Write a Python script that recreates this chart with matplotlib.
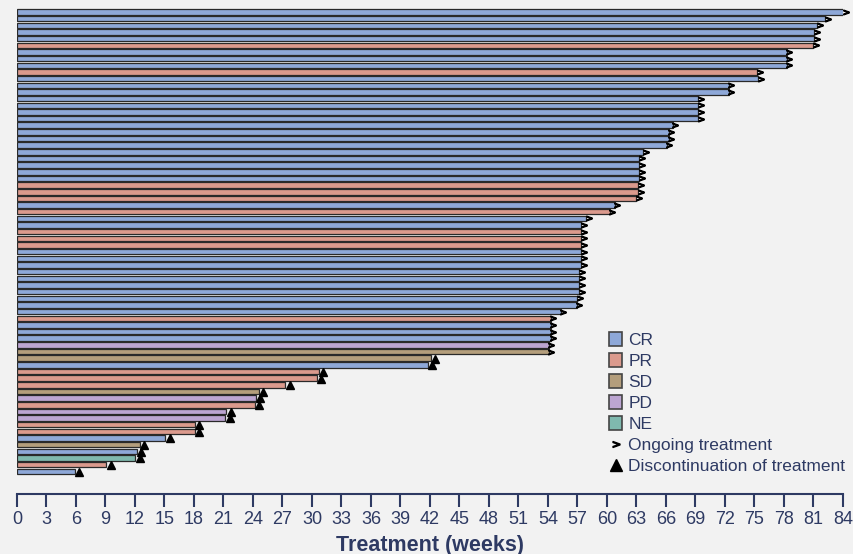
import matplotlib
matplotlib.use('Agg')
import matplotlib.pyplot as plt
from matplotlib.patches import Patch
from matplotlib.lines import Line2D
import numpy as np

plt.rcParams['font.family'] = ['Liberation Sans', 'DejaVu Sans']

# one row per patient, top to bottom
weeks = [84.1, 82.2, 81.4, 81.1, 81.1, 81.0, 78.3, 78.3, 78.3, 75.3,
         75.4, 72.4, 72.4, 69.3, 69.3, 69.3, 69.3, 66.7, 66.3, 66.3,
         66.1, 63.7, 63.3, 63.3, 63.3, 63.3, 63.2, 63.2, 63.0, 60.8,
         60.3, 57.9, 57.4, 57.4, 57.4, 57.4, 57.4, 57.4, 57.4, 57.2,
         57.2, 57.2, 57.2, 57.0, 56.9, 55.3, 54.3, 54.3, 54.3, 54.3,
         54.1, 54.1, 42.1, 41.8, 30.7, 30.5, 27.3, 24.6, 24.3, 24.2,
         21.3, 21.2, 18.1, 18.1, 15.1, 12.5, 12.2, 12.05, 9.1, 5.9]

response = ['CR', 'CR', 'CR', 'CR', 'CR', 'PR', 'CR', 'CR', 'CR', 'PR',
            'CR', 'CR', 'CR', 'CR', 'CR', 'CR', 'CR', 'CR', 'CR', 'CR',
            'CR', 'CR', 'CR', 'CR', 'CR', 'CR', 'PR', 'PR', 'PR', 'CR',
            'PR', 'CR', 'CR', 'PR', 'PR', 'PR', 'CR', 'CR', 'CR', 'CR',
            'CR', 'CR', 'CR', 'CR', 'CR', 'CR', 'PR', 'CR', 'CR', 'CR',
            'PD', 'SD', 'SD', 'CR', 'PR', 'PR', 'PR', 'SD', 'PD', 'PR',
            'PD', 'PD', 'PR', 'PR', 'CR', 'SD', 'CR', 'NE', 'PR', 'CR']

# True = still on treatment, False = discontinued
ongoing = [True] * 52 + [False] * 18

colors = {'CR': '#8EA8D8', 'PR': '#DB9A8D', 'SD': '#B49E7C',
          'PD': '#BCA5D2', 'NE': '#7FB9AE'}

bg = '#F2F2F2'
navy = '#2E3A63'

fig = plt.figure(figsize=(8.54, 5.54), dpi=100, facecolor=bg)
ax = fig.add_axes([0.0199, 0.1083, 0.9672, 0.882], facecolor=bg)

y = np.arange(len(weeks))
ax.barh(y, weeks, height=0.82, left=0,
        color=[colors[r] for r in response],
        edgecolor='#2a2a2a', linewidth=0.9, zorder=2)

w = np.array(weeks)
on = np.array(ongoing)
ax.plot(w[on] + 0.25, y[on], linestyle='none', marker='$>$', markersize=4,
        color='black', clip_on=False, zorder=3)
ax.plot(w[~on] + 0.45, y[~on] + 0.05, linestyle='none', marker='^',
        markersize=6, color='black', clip_on=False, zorder=3)

ax.set_xlim(0, 84)
ax.set_ylim(72.4, -1.0)
ax.set_xticks(np.arange(0, 85, 3))
ax.set_yticks([])
for side in ['left', 'right', 'top']:
    ax.spines[side].set_visible(False)
ax.spines['bottom'].set_color(navy)
ax.spines['bottom'].set_linewidth(1.5)
ax.tick_params(axis='x', colors=navy, direction='out', length=9,
               width=1.5, labelsize=13, pad=3)
ax.set_xlabel('Treatment (weeks)', fontsize=15.5, fontweight='bold',
              color=navy, labelpad=5)

handles = [Patch(facecolor=colors[k], edgecolor='#444444', linewidth=1.2)
           for k in ['CR', 'PR', 'SD', 'PD', 'NE']]
handles.append(Line2D([], [], linestyle='none', marker='$>$', markersize=5,
                      color='black'))
handles.append(Line2D([], [], linestyle='none', marker='^', markersize=8,
                      color='black'))
labels = ['CR', 'PR', 'SD', 'PD', 'NE', 'Ongoing treatment',
          'Discontinuation of treatment']
leg = fig.legend(handles, labels, loc='upper left',
                 bbox_to_anchor=(0.703, 0.417), frameon=False,
                 fontsize=12.5, handlelength=0.75, handleheight=0.9,
                 handletextpad=0.35, labelspacing=0.28, borderpad=0,
                 labelcolor=navy)

fig.savefig('out.png', dpi=100, facecolor=bg)
